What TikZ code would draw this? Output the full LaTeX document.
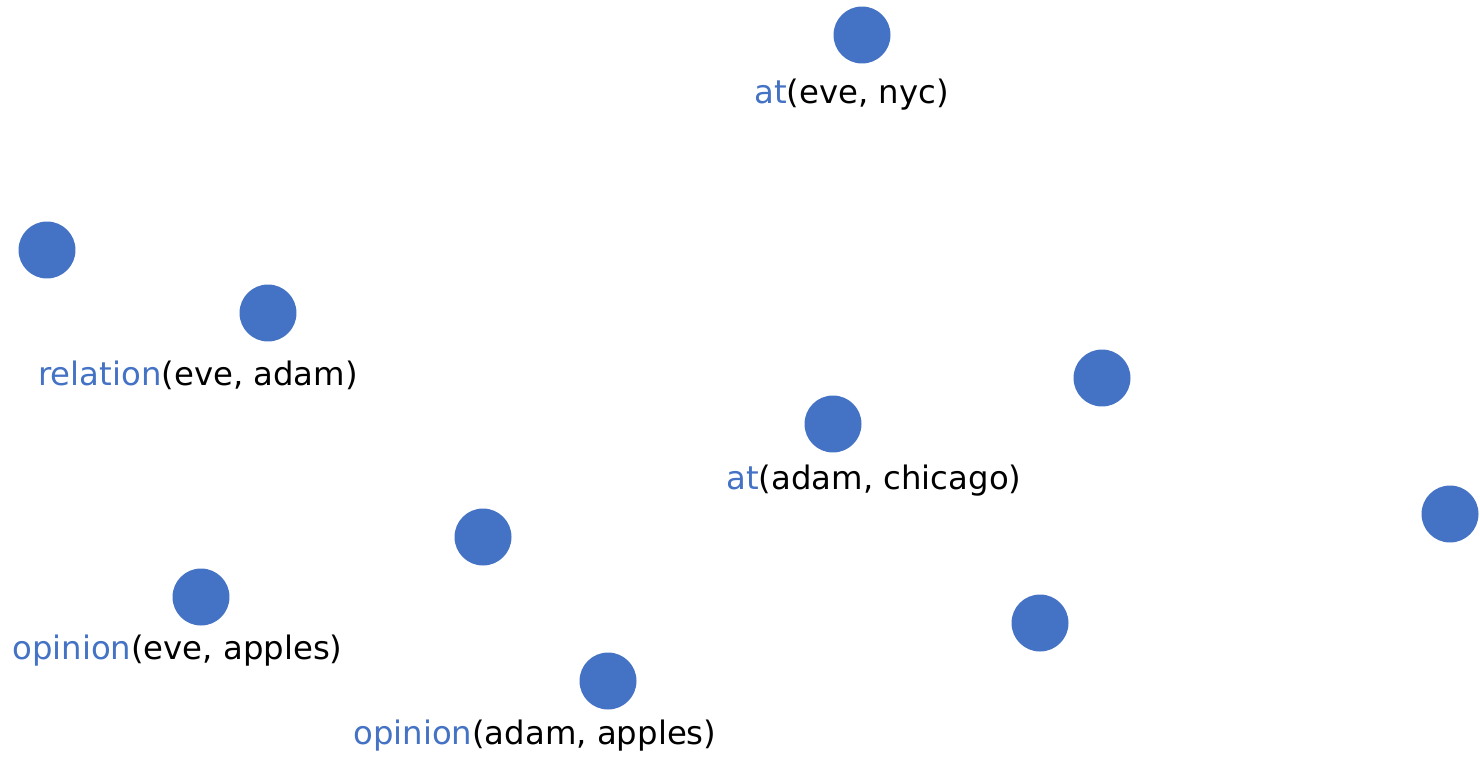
\documentclass[tikz,border=0pt]{standalone}
\usepackage{fontspec}
\setmainfont{DejaVu Sans}
\usepackage{xcolor}
\usetikzlibrary{positioning}
\definecolor{pblue}{HTML}{4472C4}

\begin{document}
\begin{tikzpicture}[x=0.02cm, y=-0.02cm]
	\tikzstyle{dot} = [circle, fill=pblue, minimum size=1.14cm, inner sep=0pt]
	\tikzstyle{fact} = [anchor=base west, inner sep=0pt, font=\fontsize{18.4}{22}\selectfont]
	\useasboundingbox (0,0) rectangle (1480,757);
	\node[dot] (1) at (862,35) {};
	\node[dot] (2) at (47,250) {};
	\node[dot] (3) at (268,313) {};
	\node[dot] (4) at (1102,378) {};
	\node[dot] (5) at (833,424) {};
	\node[dot] (6) at (1450,514) {};
	\node[dot] (7) at (483,537) {};
	\node[dot] (8) at (201,597) {};
	\node[dot] (9) at (1040,623) {};
	\node[dot] (10) at (608,681) {};
	\node[fact] (l1) at (754,104) {\textcolor{pblue}{at}(eve, nyc)};
	\node[fact] (l3) at (38,385) {\textcolor{pblue}{relation}(eve, adam)};
	\node[fact] (l5) at (726,489) {\textcolor{pblue}{at}(adam, chicago)};
	\node[fact] (l8) at (12,659) {\textcolor{pblue}{opinion}(eve, apples)};
	\node[fact] (l10) at (353,744) {\textcolor{pblue}{opinion}(adam, apples)};
\end{tikzpicture}
\end{document}
